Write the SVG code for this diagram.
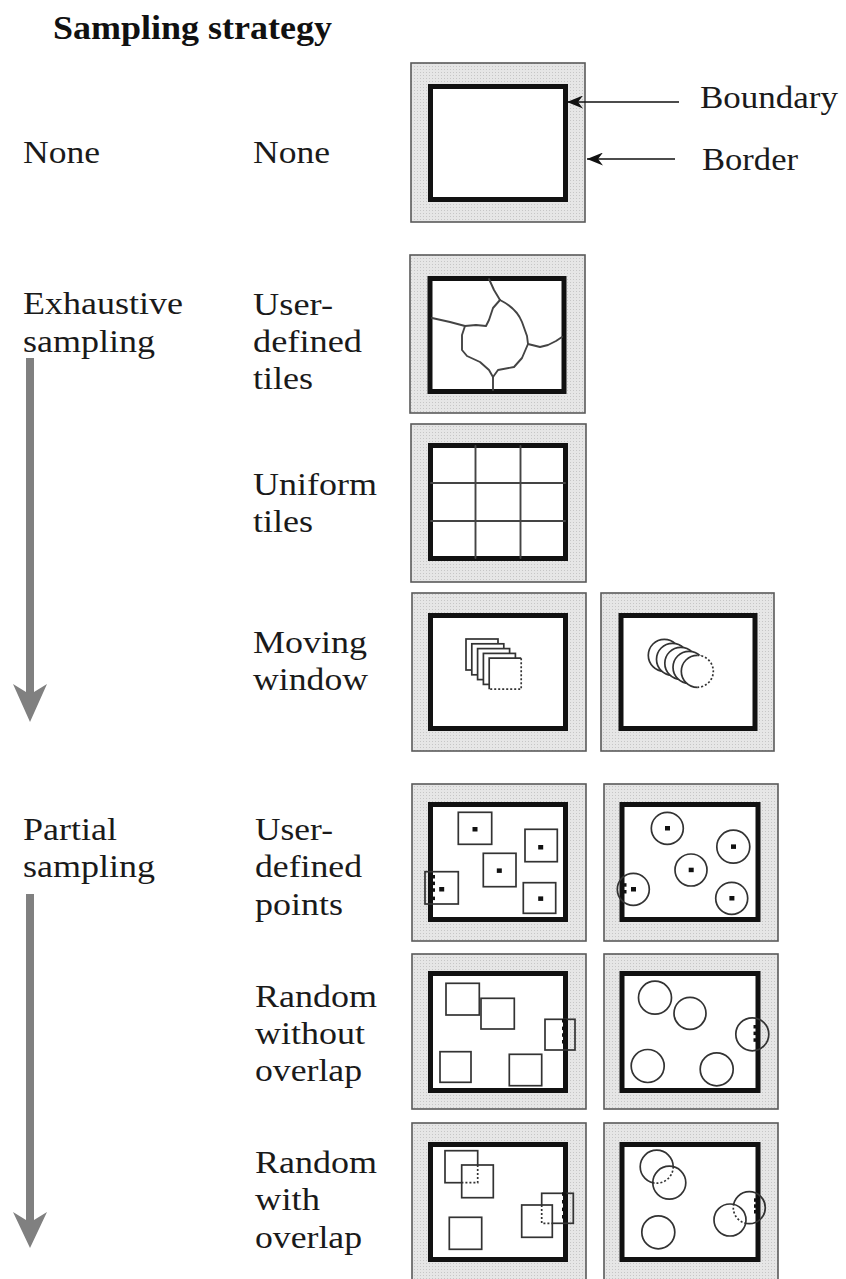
<svg xmlns="http://www.w3.org/2000/svg" width="846" height="1279" viewBox="0 0 846 1279">
<style>
.lbl{font-family:"Liberation Serif","Times New Roman",serif;font-size:31px;fill:#1a1a1a}
.ttl{font-family:"Liberation Serif","Times New Roman",serif;font-size:33px;font-weight:bold;fill:#111}
.outer{fill:url(#dots);stroke:#5a5a5a;stroke-width:1.6}
.inner{fill:#fff;stroke:#111;stroke-width:5}
.ln{fill:none;stroke:#444;stroke-width:1.9;stroke-linejoin:round;stroke-linecap:round}
.sq{fill:none;stroke:#333;stroke-width:1.7}
.sqw{fill:#fff;stroke:#333;stroke-width:1.7}
.dot{stroke-dasharray:2 2}
.pt{fill:#111}
.ptr{stroke:#111;stroke-width:1.6;fill:none}
.big{fill:#808080}
</style>
<defs>
<pattern id="dots" width="3" height="3" patternUnits="userSpaceOnUse">
<rect width="3" height="3" fill="#e6e6e6"/>
<rect width="1" height="1" fill="#c6c6c6"/>
</pattern>
<marker id="barb" viewBox="0 0 16 13" refX="16" refY="6.5" markerWidth="16" markerHeight="13" markerUnits="userSpaceOnUse" orient="auto">
<path d="M0,0 L16,6.5 L0,13 L5,6.5 Z" fill="#111"/>
</marker>
<clipPath id="c72"><circle cx="669.3" cy="1182.7" r="16.5"/></clipPath>
<clipPath id="c74"><circle cx="730" cy="1220" r="16"/></clipPath>
</defs>
<rect width="846" height="1279" fill="#fff"/>

<g id="labels">
<text class="ttl" x="53" y="39" textLength="279" lengthAdjust="spacingAndGlyphs">Sampling strategy</text>
<text class="lbl" x="23" y="163" textLength="77" lengthAdjust="spacingAndGlyphs">None</text>
<text class="lbl" x="253" y="163" textLength="77" lengthAdjust="spacingAndGlyphs">None</text>
<text class="lbl" x="700" y="108" textLength="138" lengthAdjust="spacingAndGlyphs">Boundary</text>
<text class="lbl" x="702" y="170" textLength="96" lengthAdjust="spacingAndGlyphs">Border</text>
<text class="lbl" x="23" y="314" textLength="160" lengthAdjust="spacingAndGlyphs">Exhaustive</text>
<text class="lbl" x="23" y="352" textLength="132" lengthAdjust="spacingAndGlyphs">sampling</text>
<text class="lbl" x="253" y="315" textLength="80" lengthAdjust="spacingAndGlyphs">User-</text>
<text class="lbl" x="253" y="352" textLength="109" lengthAdjust="spacingAndGlyphs">defined</text>
<text class="lbl" x="253" y="389" textLength="60" lengthAdjust="spacingAndGlyphs">tiles</text>
<text class="lbl" x="253" y="495" textLength="124" lengthAdjust="spacingAndGlyphs">Uniform</text>
<text class="lbl" x="253" y="532" textLength="60" lengthAdjust="spacingAndGlyphs">tiles</text>
<text class="lbl" x="253" y="653" textLength="114" lengthAdjust="spacingAndGlyphs">Moving</text>
<text class="lbl" x="253" y="690" textLength="115" lengthAdjust="spacingAndGlyphs">window</text>
<text class="lbl" x="23" y="840" textLength="94" lengthAdjust="spacingAndGlyphs">Partial</text>
<text class="lbl" x="23" y="877" textLength="132" lengthAdjust="spacingAndGlyphs">sampling</text>
<text class="lbl" x="255" y="840" textLength="78" lengthAdjust="spacingAndGlyphs">User-</text>
<text class="lbl" x="255" y="877" textLength="107" lengthAdjust="spacingAndGlyphs">defined</text>
<text class="lbl" x="255" y="915" textLength="88" lengthAdjust="spacingAndGlyphs">points</text>
<text class="lbl" x="255" y="1007" textLength="122" lengthAdjust="spacingAndGlyphs">Random</text>
<text class="lbl" x="255" y="1044" textLength="110" lengthAdjust="spacingAndGlyphs">without</text>
<text class="lbl" x="255" y="1081" textLength="107" lengthAdjust="spacingAndGlyphs">overlap</text>
<text class="lbl" x="255" y="1173" textLength="122" lengthAdjust="spacingAndGlyphs">Random</text>
<text class="lbl" x="255" y="1210" textLength="65" lengthAdjust="spacingAndGlyphs">with</text>
<text class="lbl" x="255" y="1248" textLength="107" lengthAdjust="spacingAndGlyphs">overlap</text>
</g>

<g id="panel-none">
<rect class="outer" x="411" y="63" width="174" height="159"/>
<rect class="inner" x="430.5" y="86.5" width="135" height="113"/>
</g>

<g id="panel-user-tiles">
<rect class="outer" x="410" y="255" width="175" height="158"/>
<rect class="inner" x="430" y="278.5" width="134" height="113"/>
<path class="ln" d="M489,279 L494,290 L500,300"/>
<path class="ln" d="M500,300 C510,305 518,312 522,322 L527,336 L528,344 L540,347 L548,345 L556,341 L562,337"/>
<path class="ln" d="M500,300 L493,308 L489,320 L486,326 L476,325 L465,326"/>
<path class="ln" d="M432,318 L450,322 L465,326"/>
<path class="ln" d="M465,326 L462,335 L462,350 L467,356 L480,362 L489,370 L493,377 L493,390"/>
<path class="ln" d="M493,377 L498,370 L514,367 L522,358 L528,344"/>
</g>

<g id="panel-uniform-tiles">
<rect class="outer" x="411" y="424" width="175" height="158"/>
<rect class="inner" x="430.5" y="445.5" width="135" height="113"/>
<path class="ln" d="M475.5,446 V558 M520.5,446 V558 M431,483 H565 M431,521 H565"/>
</g>

<g id="panel-moving-square">
<rect class="outer" x="412" y="593" width="174" height="158"/>
<rect class="inner" x="430.5" y="615.5" width="135" height="113"/>
<rect class="sqw" x="466" y="639" width="32" height="31"/>
<rect class="sqw" x="471.8" y="643.8" width="32" height="31"/>
<rect class="sqw" x="477.6" y="648.6" width="32" height="31"/>
<rect class="sqw" x="483.4" y="653.4" width="32" height="31"/>
<rect x="489.2" y="658.2" width="32" height="31" fill="#fff"/>
<path class="sq" d="M489.2,689.2 V658.2 H521.2"/>
<path class="sq dot" d="M521.2,658.2 V689.2 H489.2"/>
</g>

<g id="panel-moving-circle">
<rect class="outer" x="601" y="593" width="173" height="158"/>
<rect class="inner" x="621" y="615.5" width="134" height="113"/>
<circle class="sqw" cx="664.3" cy="655.3" r="16"/>
<circle class="sqw" cx="672.5" cy="659.3" r="16"/>
<circle class="sqw" cx="680.8" cy="663.3" r="16"/>
<circle class="sqw" cx="689" cy="667.3" r="16"/>
<circle cx="697.3" cy="671.3" r="16" fill="#fff"/>
<path class="sq" d="M697.3,655.3 A16,16 0 0 0 697.3,687.3"/>
<path class="sq dot" d="M697.3,655.3 A16,16 0 0 1 697.3,687.3"/>
</g>

<g id="panel-points-square">
<rect class="outer" x="412" y="784" width="174" height="157"/>
<rect class="inner" x="430.5" y="804.5" width="135" height="115"/>
<rect class="sq" x="458.3" y="812.3" width="33.4" height="32"/>
<rect class="sq" x="525" y="829.3" width="32.3" height="32.4"/>
<rect class="sq" x="483.3" y="853.3" width="32.7" height="33.4"/>
<rect class="sq" x="523.3" y="882.7" width="32.4" height="30.6"/>
<rect class="sq" x="425" y="871.7" width="33.3" height="32.3"/>
<rect class="pt" x="472.5" y="827" width="5" height="4.5"/>
<rect class="pt" x="538.2" y="845" width="5" height="4.5"/>
<rect class="pt" x="496.8" y="868.4" width="5" height="4.5"/>
<rect class="pt" x="538.2" y="896.4" width="5" height="4.5"/>
<rect class="pt" x="439.2" y="887" width="5" height="4.5"/>
<rect class="pt" x="430" y="875" width="5" height="3.5"/>
<rect class="pt" x="430" y="881.6" width="5" height="3.5"/>
<rect class="pt" x="430" y="888.3" width="5" height="3.5"/>
<rect class="pt" x="430" y="896.6" width="5" height="3.5"/>
</g>

<g id="panel-points-circle">
<rect class="outer" x="604" y="784" width="174" height="157"/>
<rect class="inner" x="622" y="804.5" width="136" height="115"/>
<circle class="sq" cx="667.3" cy="828.3" r="16"/>
<circle class="sq" cx="733.3" cy="846.7" r="16.5"/>
<circle class="sq" cx="691" cy="870" r="16"/>
<circle class="sq" cx="731.7" cy="898.3" r="16"/>
<circle class="sq" cx="633.3" cy="889.3" r="16"/>
<rect class="pt" x="665" y="826" width="5" height="4.5"/>
<rect class="pt" x="731" y="844.4" width="5" height="4.5"/>
<rect class="pt" x="688.7" y="867.7" width="5" height="4.5"/>
<rect class="pt" x="729.4" y="896" width="5" height="4.5"/>
<rect class="pt" x="631" y="887" width="5" height="4.5"/>
<rect class="pt" x="622" y="883.2" width="4.5" height="3.5"/>
<rect class="pt" x="622" y="890" width="4.5" height="3.5"/>
</g>

<g id="panel-random-square">
<rect class="outer" x="412" y="954" width="174" height="155"/>
<rect class="inner" x="430.5" y="973.5" width="135" height="117"/>
<rect class="sq" x="446" y="983.3" width="33.3" height="31.7"/>
<rect class="sq" x="481" y="998.3" width="33.3" height="30.7"/>
<rect class="sq" x="545" y="1019.3" width="30" height="30.7"/>
<rect class="sq" x="440" y="1051.7" width="31" height="30.6"/>
<rect class="sq" x="509.3" y="1054.3" width="32.4" height="31.4"/>
<rect class="pt" x="562" y="1019" width="4.5" height="3.5"/>
<rect class="pt" x="562" y="1026.6" width="4.5" height="3.5"/>
<rect class="pt" x="562" y="1033.3" width="4.5" height="3.5"/>
<rect class="pt" x="562" y="1040" width="4.5" height="3.5"/>
</g>

<g id="panel-random-circle">
<rect class="outer" x="604" y="954" width="174" height="155"/>
<rect class="inner" x="622" y="973.5" width="136" height="117"/>
<circle class="sq" cx="655" cy="997.7" r="16.5"/>
<circle class="sq" cx="690" cy="1013.3" r="16"/>
<circle class="sq" cx="752.3" cy="1034.3" r="16.5"/>
<circle class="sq" cx="647.7" cy="1066" r="16.5"/>
<circle class="sq" cx="716.7" cy="1069.3" r="16.5"/>
<rect class="pt" x="753.5" y="1025" width="4.5" height="3.5"/>
<rect class="pt" x="753.5" y="1031.6" width="4.5" height="3.5"/>
<rect class="pt" x="753.5" y="1038.3" width="4.5" height="3.5"/>
</g>

<g id="panel-overlap-square">
<rect class="outer" x="412" y="1123" width="174" height="158"/>
<rect class="inner" x="430.5" y="1144.5" width="135" height="115"/>
<rect class="sq" x="445" y="1150.7" width="32.7" height="32"/>
<rect class="sqw" x="461.7" y="1165" width="31.6" height="32.7"/>
<path class="sq dot" d="M477.7,1165 V1182.7 H461.7"/>
<rect class="sq" x="449.3" y="1217.3" width="32.4" height="32"/>
<rect class="sq" x="541.7" y="1193.3" width="31.6" height="30"/>
<rect class="sqw" x="521.7" y="1205" width="30.6" height="32.3"/>
<path class="sq dot" d="M541.7,1205 V1223.3 H552.3"/>
<rect class="pt" x="562" y="1192.3" width="4.5" height="3.5"/>
<rect class="pt" x="562" y="1200" width="4.5" height="3.5"/>
<rect class="pt" x="562" y="1207.6" width="4.5" height="3.5"/>
<rect class="pt" x="562" y="1215" width="4.5" height="3.5"/>
</g>

<g id="panel-overlap-circle">
<rect class="outer" x="604" y="1123" width="174" height="158"/>
<rect class="inner" x="622" y="1144.5" width="136" height="115"/>
<circle class="sq" cx="656.7" cy="1166.7" r="16.5"/>
<circle class="sqw" cx="669.3" cy="1182.7" r="16.5"/>
<circle class="sq dot" cx="656.7" cy="1166.7" r="16.5" clip-path="url(#c72)"/>
<circle class="sq" cx="658.3" cy="1232.3" r="16.5"/>
<circle class="sq" cx="749.3" cy="1207.7" r="16"/>
<circle class="sqw" cx="730" cy="1220" r="16"/>
<circle class="sq dot" cx="749.3" cy="1207.7" r="16" clip-path="url(#c74)"/>
<rect class="pt" x="754" y="1198.3" width="4.5" height="3.5"/>
<rect class="pt" x="754" y="1204.3" width="4.5" height="3.5"/>
<rect class="pt" x="754" y="1210" width="4.5" height="3.5"/>
</g>

<g id="connectors">
<line class="ptr" x1="679" y1="102" x2="567" y2="102" marker-end="url(#barb)"/>
<line class="ptr" x1="675" y1="159" x2="587" y2="159" marker-end="url(#barb)"/>
<polygon class="big" points="26,358 34,358 34,692 47,684 30,722 13,684 26,692"/>
<polygon class="big" points="26,894 34,894 34,1220 47,1212 30,1248 13,1212 26,1220"/>
</g>
</svg>
